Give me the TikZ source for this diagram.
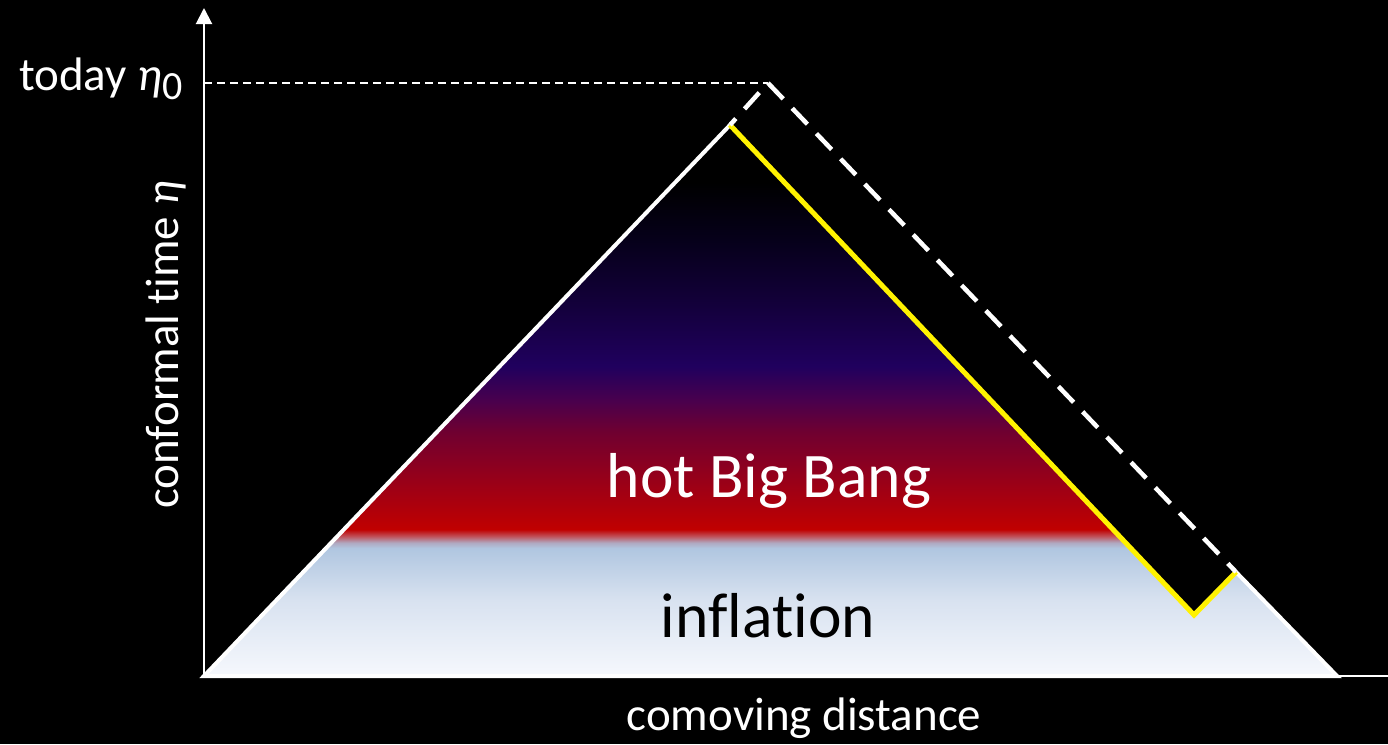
\documentclass[tikz,border=0pt]{standalone}
\usepackage{fontspec}
\setmainfont{Carlito}[Ligatures={NoCommon}]
\usetikzlibrary{arrows.meta}
\definecolor{cA}{HTML}{F6F8FD}
\definecolor{cB}{HTML}{D8E2F0}
\definecolor{cC}{HTML}{B0C6E0}
\definecolor{cD}{HTML}{B0A8C0}
\definecolor{cE}{HTML}{C05058}
\definecolor{cF}{HTML}{C00000}
\definecolor{cG}{HTML}{A00014}
\definecolor{cH}{HTML}{700030}
\definecolor{cI}{HTML}{48004E}
\definecolor{cJ}{HTML}{20005E}
\definecolor{cK}{HTML}{120038}
\definecolor{cL}{HTML}{06001A}
\definecolor{cM}{HTML}{000000}
\pgfdeclareverticalshading{cone}{100bp}{color(0bp)=(cA); color(25bp)=(cA); color(31.9bp)=(cB); color(36.6bp)=(cC); color(37.1bp)=(cD); color(37.7bp)=(cE); color(38.3bp)=(cF); color(41.9bp)=(cG); color(47.1bp)=(cH); color(50.1bp)=(cI); color(53.1bp)=(cJ); color(59.2bp)=(cK); color(64.6bp)=(cL); color(69.8bp)=(cM); color(100bp)=(cM)}
\tikzset{
  lbl/.style={text=white, font=\fontsize{47}{52}\selectfont, inner sep=0pt},
  big/.style={font=\fontsize{63.5}{70}\selectfont, inner sep=0pt},
  axis/.style={white, line width=2pt},
  edge/.style={white, line width=4pt},
  lightray/.style={yellow, line width=5pt},
  shifted/.style={white, line width=4.5pt, dash pattern=on 22pt off 13pt}
}
\begin{document}
\begin{tikzpicture}[x=1pt,y=-1pt]
\useasboundingbox[fill=black] (0,0) rectangle (1388,744);
\coordinate (O) at (204,676);
\coordinate (Top) at (204,8);
\coordinate (Xend) at (1388,676);
\coordinate (A) at (730,125);
\coordinate (V) at (1194,615);
\coordinate (N) at (1236,572);
\coordinate (R) at (1337,676);
\coordinate (C) at (768,83);
\coordinate (Y) at (204,83);
\shade[shading=cone] (O) -- (A) -- (V) -- (N) -- (R) -- cycle;
\draw[axis, -{Triangle[width=16pt,length=16pt]}] (O) -- (Top);
\draw[axis] (O) -- (Xend);
\draw[white, line width=1.5pt, dash pattern=on 8pt off 5pt] (Y) -- (C);
\draw[edge] (A) -- (O) -- (R) -- (N);
\draw[lightray] (A) -- (V) -- (N);
\draw[shifted] (C) -- (N);
\draw[shifted, dash phase=22pt] (C) -- (A);
\node[lbl, anchor=base west] (today) at (19,90) {today {\itshape η}\raisebox{-9pt}{\fontsize{40}{44}\selectfont 0}};
\node[lbl, anchor=base, rotate=90] (ylab) at (178,345) {conformal time {\itshape η}};
\node[lbl, anchor=base] (xlab) at (804,730) {comoving distance};
\node[big, text=white, anchor=base] (hbb) at (769,497) {hot Big Bang};
\node[big, text=black, anchor=base] (inf) at (768,637) {inflation};
\end{tikzpicture}
\end{document}
